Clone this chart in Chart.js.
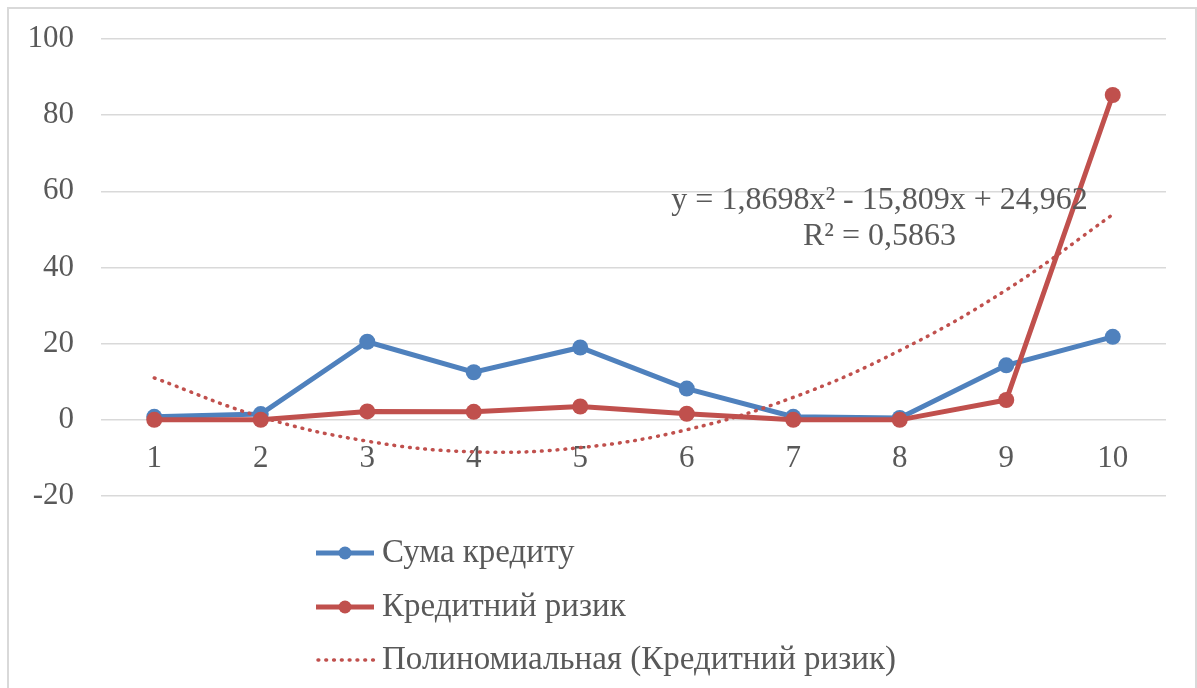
<!DOCTYPE html>
<html>
<head>
<meta charset="utf-8">
<script src="https://cdn.jsdelivr.net/npm/chart.js@4.4.0/dist/chart.umd.min.js"></script>
<style>
  body { margin: 0; background: #fff; }
  #frame {
    position: absolute; left: 7px; top: 7px; width: 1186px; height: 720px;
    border: 2px solid #d9d9d9; border-bottom: none;
  }
  #wrap { position: absolute; left: 0; top: 0; width: 1197px; height: 688px; }
</style>
</head>
<body>
<div id="frame"></div>
<div id="wrap"><canvas id="myChart" width="1197" height="688"></canvas></div>
<script>
var labels = ['1', '2', '3', '4', '5', '6', '7', '8', '9', '10'];
var sumaKredytu = [0.8, 1.5, 20.5, 12.5, 19, 8.2, 0.8, 0.5, 14.3, 21.8];
var kredytnyiRyzyk = [0, 0, 2.2, 2.1, 3.5, 1.6, 0, 0, 5.2, 85.3];
// dotted trend line at each category
var trend = [11.0, 0.8, -5.6, -8.4, -7.3, -2.6, 5.9, 18.2, 34.1, 53.9];
var yTicks = [-20, 0, 20, 40, 60, 80, 100];
var trendText = ['y = 1,8698x² - 15,809x + 24,962', 'R² = 0,5863'];

var font = '"Liberation Serif", "Times New Roman", serif';
var textColor = '#595959';

var ctx = document.getElementById('myChart').getContext('2d');

var extras = {
    id: 'extras',
    afterDatasetsDraw: function (chart) {
        var c = chart.ctx;
        var xs = chart.scales.x, ys = chart.scales.y;
        c.save();
        c.font = '32px ' + font;
        c.fillStyle = textColor;
        c.textAlign = 'center';
        c.textBaseline = 'middle';
        var tx = xs.getPixelForValue(6.81);
        c.fillText(trendText[0], tx, ys.getPixelForValue(57.6));
        c.fillText(trendText[1], tx, ys.getPixelForValue(48.1));

        // legend, one item per row
        var rows = [553, 607, 660];
        c.font = '33px ' + font;
        chart.data.datasets.forEach(function (ds, i) {
            var y = rows[i];
            c.strokeStyle = ds.borderColor;
            c.lineWidth = ds.borderWidth;
            c.lineCap = ds.borderDash ? 'round' : 'butt';
            c.setLineDash(ds.borderDash || []);
            c.beginPath();
            c.moveTo(ds.borderDash ? 318 : 316, y);
            c.lineTo(374, y);
            c.stroke();
            c.setLineDash([]);
            if (ds.pointRadius) {
                c.fillStyle = ds.borderColor;
                c.beginPath();
                c.arc(345, y, 6.5, 0, Math.PI * 2);
                c.fill();
            }
            c.fillStyle = textColor;
            c.textAlign = 'left';
            c.fillText(ds.label, 382, y);
        });
        c.restore();
    }
};

var chart = new Chart(ctx, {
    type: 'line',
    data: {
        labels: labels,
        datasets: [{
            label: 'Сума кредиту',
            data: sumaKredytu,
            borderColor: '#4f81bd',
            backgroundColor: '#4f81bd',
            borderWidth: 5,
            pointRadius: 8,
            pointBorderWidth: 0,
            fill: false,
            order: 3
        }, {
            label: 'Кредитний ризик',
            data: kredytnyiRyzyk,
            borderColor: '#c0504d',
            backgroundColor: '#c0504d',
            borderWidth: 5,
            pointRadius: 8,
            pointBorderWidth: 0,
            fill: false,
            order: 2
        }, {
            label: 'Полиномиальная (Кредитний ризик)',
            data: trend,
            borderColor: '#c0504d',
            borderWidth: 3.5,
            borderDash: [0.8, 7],
            borderCapStyle: 'round',
            pointRadius: 0,
            tension: 0.4,
            fill: false,
            order: 1
        }]
    },
    options: {
        responsive: false,
        animation: false,
        layout: { padding: { left: 0, top: 39, right: 31, bottom: 192 } },
        plugins: {
            legend: { display: false },
            tooltip: { enabled: false }
        },
        scales: {
            x: {
                position: { y: 0 },
                offset: true,
                grid: { display: false, drawTicks: false },
                border: { display: false },
                ticks: {
                    color: textColor,
                    font: { family: font, size: 31 },
                    padding: 20,
                    maxRotation: 0
                }
            },
            y: {
                min: -20,
                max: 100,
                afterBuildTicks: function (scale) {
                    scale.ticks = yTicks.map(function (v) { return { value: v }; });
                },
                afterFit: function (scale) { scale.width = 101; },
                grid: {
                    color: '#d9d9d9',
                    lineWidth: 1.5,
                    drawTicks: true,
                    tickLength: 25,
                    tickColor: 'rgba(0,0,0,0)'
                },
                border: { display: false },
                ticks: {
                    color: textColor,
                    font: { family: font, size: 31 },
                    padding: 2
                }
            }
        }
    },
    plugins: [extras]
});
</script>
</body>
</html>
